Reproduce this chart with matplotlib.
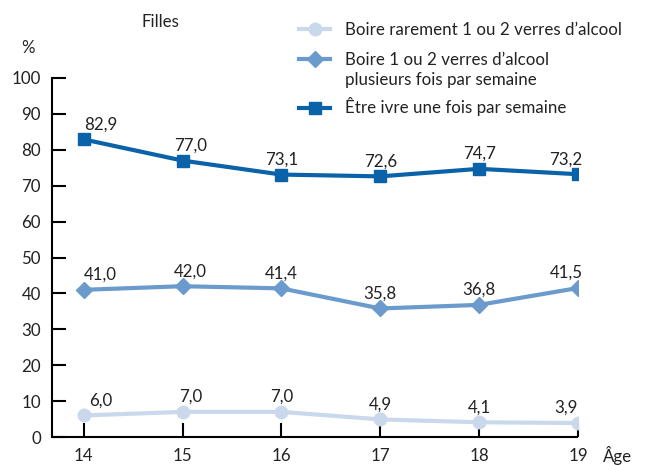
import matplotlib
matplotlib.use("Agg")
import matplotlib.pyplot as plt

ages = [14, 15, 16, 17, 18, 19]
rarement = [6.0, 7.0, 7.0, 4.9, 4.1, 3.9]
plusieurs = [41.0, 42.0, 41.4, 35.8, 36.8, 41.5]
ivre = [82.9, 77.0, 73.1, 72.6, 74.7, 73.2]
labels = ["Boire rarement 1 ou 2 verres d\u2019alcool",
          "Boire 1 ou 2 verres d\u2019alcool\nplusieurs fois par semaine",
          "\u00catre ivre une fois par semaine"]
yticks = [0, 10, 20, 30, 40, 50, 60, 70, 80, 90, 100]

plt.rcParams['font.family'] = ['Lato', 'DejaVu Sans']
fs = 12.2
W, H = 650, 465

fig = plt.figure(figsize=(6.5, 4.65), dpi=100)
ax = fig.add_axes([52/W, 28/H, (578-52)/W, (437-78)/H])

c_light = '#c9d9eb'
c_med = '#6b9bcd'
c_dark = '#0a62a8'

l1, = ax.plot(ages, rarement, color=c_light, lw=3, marker='o', ms=9, zorder=3)
l2, = ax.plot(ages, plusieurs, color=c_med, lw=3, marker='D', ms=8, zorder=3)
l3, = ax.plot(ages, ivre, color=c_dark, lw=3, marker='s', ms=8, zorder=3)

dx = [0.17, 0.08, 0.0, 0.0, 0.0, -0.12]
for series in (rarement, plusieurs, ivre):
    for i, (x, y) in enumerate(zip(ages, series)):
        ax.annotate(f"{y:.1f}".replace('.', ','), (x + dx[i], y), xytext=(0, 5),
                    textcoords='offset points', ha='center', va='bottom',
                    fontsize=fs, color='#222222')

ax.set_xlim(13.68, 19.0)
ax.set_ylim(0, 100)
ax.set_xticks(ages)
ax.set_yticks(yticks)
ax.tick_params(axis='both', direction='in', length=10, width=1.5, labelsize=fs,
               colors='black', labelcolor='#222222')
ax.tick_params(axis='y', pad=8)
ax.tick_params(axis='x', pad=8)
for s in ('top', 'right'):
    ax.spines[s].set_visible(False)
for s in ('left', 'bottom'):
    ax.spines[s].set_linewidth(1.5)
ax.spines['bottom'].set_capstyle('butt')

fig.text(160/W, 1 - 22/H, "Filles", fontsize=fs, ha='center', va='center', color='#222222')
fig.text(28/W, 1 - 48/H, "%", fontsize=fs, ha='center', va='center', color='#222222')
fig.text(618/W, 1 - 455/H, "\u00c2ge", fontsize=fs, ha='center', va='center', color='#222222')

# legend: one entry per row, handle aligned with first text line
row_y = [30, 60, 107]
legs = []
for handle, lab, yy in zip([l1, l2, l3], labels, row_y):
    lines = lab.split('\n')
    leg = fig.legend([handle], [lines[0]], loc='center left',
                     bbox_to_anchor=(284/W, 1 - yy/H), frameon=False, fontsize=fs,
                     handlelength=1.8, handletextpad=0.9, labelcolor='#222222')
    legs.append((leg, lines[1:], yy))

fig.canvas.draw()
for leg, extra_lines, yy in legs:
    x0 = leg.get_texts()[0].get_window_extent().x0
    for k, extra in enumerate(extra_lines, start=1):
        fig.text(x0/W, 1 - (yy + 20*k)/H, extra, fontsize=fs, ha='left',
                 va='center', color='#222222')

fig.savefig('out.png', dpi=100)
